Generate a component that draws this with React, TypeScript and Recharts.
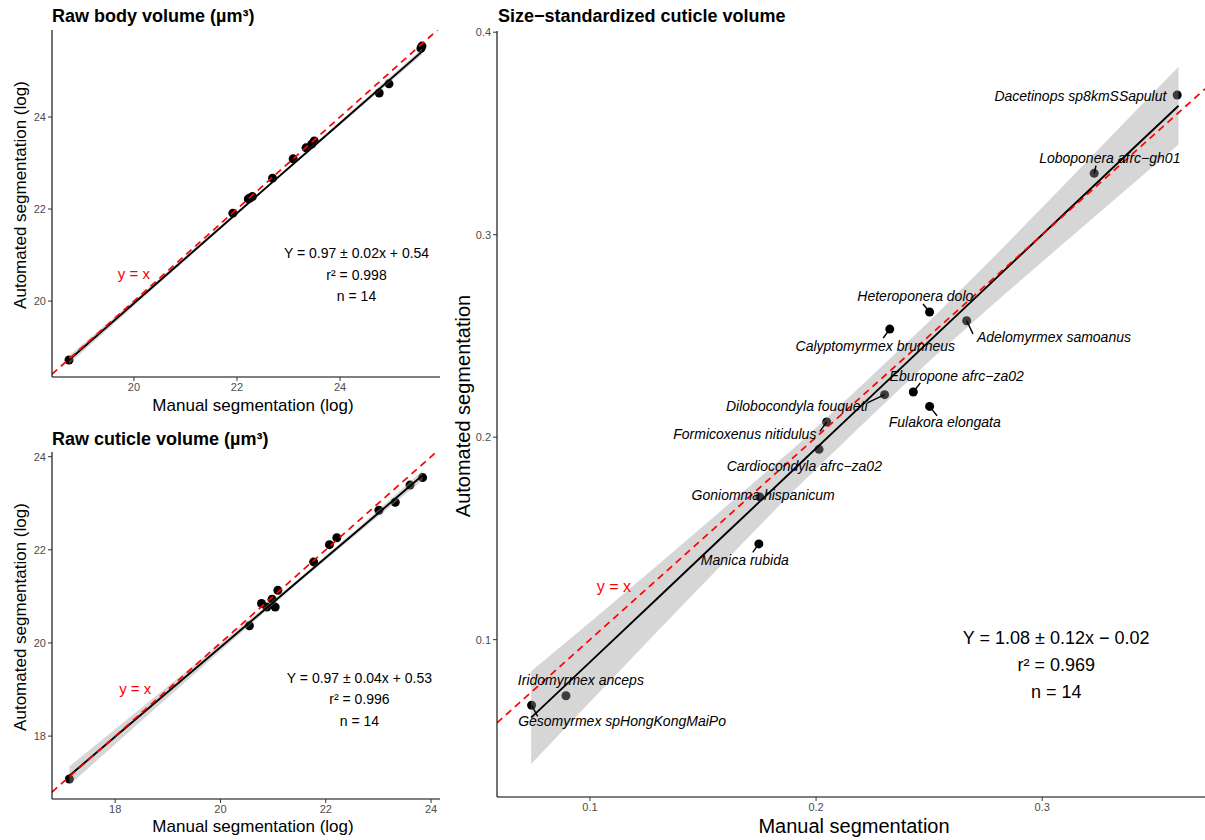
import React from 'react';
import { ComposedChart, XAxis, YAxis, Scatter, Area, Line, ReferenceLine } from 'recharts';

const FONT = '"Liberation Sans", Arial, Helvetica, sans-serif';

// ---------- Panel A: raw body volume ----------
const bodyManual = [18.74, 21.92, 22.22, 22.25, 22.30, 22.69, 23.09, 23.34, 23.45, 23.50, 24.76, 24.95, 25.57, 25.59];
const bodyAuto = [18.72, 21.91, 22.22, 22.24, 22.27, 22.67, 23.09, 23.33, 23.41, 23.48, 24.52, 24.72, 25.49, 25.54];
const bodyFitX = [18.74, 20.5, 22.5, 24.0, 25.59];
const bodyFitY = [18.72, 20.44, 22.40, 23.865, 25.42];
const bodyLow = [18.63, 20.39, 22.37, 23.825, 25.35];
const bodyHigh = [18.81, 20.49, 22.43, 23.905, 25.49];
const bodyXTicks = [20, 22, 24];
const bodyYTicks = [20, 22, 24];
const bodyEq = ['Y = 0.97 ± 0.02x + 0.54', 'r² = 0.998', 'n = 14'];

// ---------- Panel B: raw cuticle volume ----------
const cutManual = [17.13, 20.55, 20.78, 20.88, 20.98, 21.04, 21.09, 21.77, 22.07, 22.21, 23.01, 23.32, 23.60, 23.84];
const cutAuto = [17.08, 20.37, 20.85, 20.77, 20.94, 20.77, 21.13, 21.74, 22.11, 22.26, 22.85, 23.02, 23.39, 23.55];
const cutFitX = [17.13, 18.5, 20.0, 21.5, 22.7, 23.84];
const cutFitY = [17.15, 18.47, 19.91, 21.35, 22.50, 23.60];
const cutLow = [16.95, 18.33, 19.83, 21.31, 22.44, 23.50];
const cutHigh = [17.35, 18.61, 19.99, 21.39, 22.56, 23.70];
const cutXTicks = [18, 20, 22, 24];
const cutYTicks = [18, 20, 22, 24];
const cutEq = ['Y = 0.97 ± 0.04x + 0.53', 'r² = 0.996', 'n = 14'];

// ---------- Panel C: size-standardized cuticle volume ----------
const species = [
  'Dacetinops sp8kmSSapulut', 'Loboponera afrc\u2212gh01', 'Heteroponera dolo', 'Calyptomyrmex brunneus',
  'Adelomyrmex samoanus', 'Dilobocondyla fouqueti', 'Eburopone afrc\u2212za02', 'Fulakora elongata',
  'Formicoxenus nitidulus', 'Cardiocondyla afrc\u2212za02', 'Goniomma hispanicum', 'Manica rubida',
  'Iridomyrmex anceps', 'Gesomyrmex spHongKongMaiPo',
];
const stdManual = [0.3597, 0.3230, 0.2502, 0.2326, 0.2666, 0.2303, 0.2430, 0.2502, 0.2047, 0.2013, 0.1751, 0.1747, 0.0894, 0.0742];
const stdAuto = [0.3690, 0.3303, 0.2618, 0.2534, 0.2575, 0.2210, 0.2223, 0.2152, 0.2075, 0.1940, 0.1705, 0.1473, 0.0723, 0.0676];
const labelX = [0.3169, 0.3299, 0.2439, 0.2262, 0.3052, 0.1915, 0.2622, 0.2569, 0.1685, 0.1948, 0.1766, 0.1685, 0.0960, 0.1142];
const labelY = [0.3686, 0.3379, 0.2695, 0.2452, 0.2493, 0.2156, 0.2300, 0.2073, 0.2017, 0.1859, 0.1716, 0.1395, 0.0802, 0.0597];
const segEndX = [null, 0.3238, 0.2473, 0.2297, 0.2694, 0.2227, 0.2461, 0.2535, 0.2017, null, null, 0.1720, null, 0.0769];
const segEndY = [null, 0.3341, 0.2658, 0.2490, 0.2510, 0.2169, 0.2268, 0.2106, 0.2029, null, null, 0.1431, null, 0.0621];
const stdFitX = [0.074, 0.10, 0.13, 0.16, 0.19, 0.22, 0.25, 0.28, 0.31, 0.34, 0.3603];
const stdFitY = [0.0615, 0.0889, 0.1206, 0.1523, 0.1839, 0.2156, 0.2473, 0.2789, 0.3106, 0.3423, 0.3637];
const stdLow = [0.0386, 0.0692, 0.1043, 0.1390, 0.1734, 0.2058, 0.2375, 0.2672, 0.2963, 0.3250, 0.3445];
const stdHigh = [0.0844, 0.1086, 0.1369, 0.1656, 0.1944, 0.2254, 0.2571, 0.2906, 0.3249, 0.3596, 0.3829];
const stdXTicks = [0.1, 0.2, 0.3];
const stdYTicks = [0.1, 0.2, 0.3, 0.4];
const stdEq = ['Y = 1.08 ± 0.12x \u2212 0.02', 'r² = 0.969', 'n = 14'];

const Dot = (props: any) => {
  const { cx, cy } = props;
  if (cx == null || cy == null) return null;
  return <circle cx={cx} cy={cy} r={4.5} fill="#000" />;
};

const makeText = (size: number, color: string, italic: boolean, lh: number) => (props: any) => {
  const { cx, cy, payload } = props;
  if (cx == null || cy == null) return null;
  const lines: string[] = payload.lines;
  const start = -((lines.length - 1) * lh) / 2;
  return (
    <text
      textAnchor="middle"
      fontFamily={FONT}
      fontSize={size}
      fill={color}
      fontStyle={italic ? 'italic' : 'normal'}
    >
      {lines.map((l, i) => (
        <tspan key={i} x={cx} y={cy + start + i * lh + size * 0.36}>
          {l}
        </tspan>
      ))}
    </text>
  );
};

type PanelProps = {
  width: number;
  height: number;
  margin: { top: number; right: number; bottom: number; left: number };
  xDomain: [number, number];
  yDomain: [number, number];
  xTicks: number[];
  yTicks: number[];
  xs: number[];
  ys: number[];
  fitX: number[];
  fitY: number[];
  low: number[];
  high: number[];
  yx: { x: number; y: number };
  yxSize: number;
  eq: { x: number; y: number; lines: string[] };
  eqSize: number;
  eqLh: number;
  labels?: { x: number; y: number; lines: string[] }[];
  segments?: { x1: number; y1: number; x2: number; y2: number }[];
};

function Panel(p: PanelProps) {
  const ribbon = p.fitX.map((x, i) => ({ x, fit: p.fitY[i], band: [p.low[i], p.high[i]] }));
  const pts = p.xs.map((x, i) => ({ x, y: p.ys[i] }));
  const lo = Math.max(p.xDomain[0], p.yDomain[0]);
  const hi = Math.min(p.xDomain[1], p.yDomain[1]);
  const tickStyle = { fill: '#4d4d4d', fontSize: 11, fontFamily: FONT };
  const YXText = makeText(p.yxSize, '#ff0000', false, 0);
  const EqText = makeText(p.eqSize, '#000', false, p.eqLh);
  const LabelText = makeText(14, '#000', true, 0);
  return (
    <ComposedChart width={p.width} height={p.height} margin={p.margin} data={ribbon}>
      <XAxis
        type="number"
        dataKey="x"
        domain={p.xDomain}
        ticks={p.xTicks}
        allowDataOverflow
        height={23}
        tickSize={4}
        tickMargin={2}
        tick={tickStyle}
        tickLine={{ stroke: '#333' }}
        axisLine={{ stroke: '#000', strokeWidth: 1.1 }}
      />
      <YAxis
        type="number"
        dataKey="y"
        domain={p.yDomain}
        ticks={p.yTicks}
        allowDataOverflow
        width={52}
        tickSize={4}
        tickMargin={2}
        tick={tickStyle}
        tickLine={{ stroke: '#333' }}
        axisLine={{ stroke: '#000', strokeWidth: 1.1 }}
      />
      <Scatter data={pts} dataKey="y" shape={Dot} isAnimationActive={false} zIndex={50} />
      <Area
        dataKey="band"
        type="linear"
        fill="#999999"
        fillOpacity={0.4}
        stroke="none"
        isAnimationActive={false}
        activeDot={false}
        zIndex={100}
      />
      <Line
        dataKey="fit"
        type="linear"
        stroke="#000"
        strokeWidth={1.9}
        dot={false}
        activeDot={false}
        isAnimationActive={false}
        zIndex={400}
      />
      <ReferenceLine
        segment={[{ x: lo, y: lo }, { x: hi, y: hi }]}
        stroke="#ff0000"
        strokeWidth={1.7}
        strokeDasharray="7 5"
        ifOverflow="hidden"
        zIndex={450}
      />
      {(p.segments || []).map((s, i) => (
        <ReferenceLine
          key={i}
          segment={[{ x: s.x1, y: s.y1 }, { x: s.x2, y: s.y2 }]}
          stroke="#000"
          strokeWidth={1.4}
          ifOverflow="hidden"
          zIndex={460}
        />
      ))}
      <Scatter data={[{ x: p.yx.x, y: p.yx.y, lines: ['y = x'] }]} dataKey="y" shape={YXText} isAnimationActive={false} zIndex={2000} />
      <Scatter data={[p.eq]} dataKey="y" shape={EqText} isAnimationActive={false} zIndex={2000} />
      {p.labels ? (
        <Scatter data={p.labels} dataKey="y" shape={LabelText} isAnimationActive={false} zIndex={2000} />
      ) : null}
    </ComposedChart>
  );
}

const abs = (left: number, top: number): React.CSSProperties => ({ position: 'absolute', left, top });

const Title = ({ left, top, text }: { left: number; top: number; text: string }) => (
  <div style={{ ...abs(left, top), fontFamily: FONT, fontWeight: 'bold', fontSize: 18, lineHeight: '20px', whiteSpace: 'nowrap', color: '#000' }}>
    {text}
  </div>
);

const XLabel = ({ cx, top, text, size }: { cx: number; top: number; text: string; size: number }) => (
  <div style={{ ...abs(cx, top), transform: 'translateX(-50%)', fontFamily: FONT, fontSize: size, lineHeight: `${Math.round(size * 1.2)}px`, whiteSpace: 'nowrap', color: '#000' }}>
    {text}
  </div>
);

const YLabel = ({ cx, cy, text, size }: { cx: number; cy: number; text: string; size: number }) => (
  <div style={{ ...abs(cx, cy), transform: 'translate(-50%, -50%) rotate(-90deg)', fontFamily: FONT, fontSize: size, lineHeight: `${Math.round(size * 1.2)}px`, whiteSpace: 'nowrap', color: '#000' }}>
    {text}
  </div>
);

export default function App() {
  const stdLabels = species.map((s, i) => ({ x: labelX[i], y: labelY[i], lines: [s] }));
  const stdSegments = species
    .map((_, i) =>
      segEndX[i] == null ? null : { x1: stdManual[i], y1: stdAuto[i], x2: segEndX[i] as number, y2: segEndY[i] as number }
    )
    .filter(Boolean) as { x1: number; y1: number; x2: number; y2: number }[];

  return (
    <div style={{ position: 'absolute', left: 0, top: 0, width: 1205, height: 840, background: '#fff', overflow: 'hidden' }}>
      <div style={abs(0, 0)}>
        <Panel
          width={441}
          height={400}
          margin={{ top: 30, right: 1, bottom: 0, left: 0 }}
          xDomain={[18.41, 25.94]}
          yDomain={[18.35, 25.89]}
          xTicks={bodyXTicks}
          yTicks={bodyYTicks}
          xs={bodyManual}
          ys={bodyAuto}
          fitX={bodyFitX}
          fitY={bodyFitY}
          low={bodyLow}
          high={bodyHigh}
          yx={{ x: 20.0, y: 20.6 }}
          yxSize={15}
          eq={{ x: 24.32, y: 20.57, lines: bodyEq }}
          eqSize={14}
          eqLh={21.5}
        />
      </div>
      <div style={abs(0, 422)}>
        <Panel
          width={441}
          height={400}
          margin={{ top: 30, right: 1, bottom: 0, left: 0 }}
          xDomain={[16.8, 24.17]}
          yDomain={[16.65, 24.1]}
          xTicks={cutXTicks}
          yTicks={cutYTicks}
          xs={cutManual}
          ys={cutAuto}
          fitX={cutFitX}
          fitY={cutFitY}
          low={cutLow}
          high={cutHigh}
          yx={{ x: 18.38, y: 19.03 }}
          yxSize={15}
          eq={{ x: 22.64, y: 18.79, lines: cutEq }}
          eqSize={14}
          eqLh={21.5}
        />
      </div>
      <div style={abs(445, 0)}>
        <Panel
          width={760}
          height={820}
          margin={{ top: 31, right: 0, bottom: 0, left: 0 }}
          xDomain={[0.0589, 0.372]}
          yDomain={[0.0223, 0.4006]}
          xTicks={stdXTicks}
          yTicks={stdYTicks}
          xs={stdManual}
          ys={stdAuto}
          fitX={stdFitX}
          fitY={stdFitY}
          low={stdLow}
          high={stdHigh}
          yx={{ x: 0.1106, y: 0.1262 }}
          yxSize={16}
          eq={{ x: 0.3062, y: 0.0877, lines: stdEq }}
          eqSize={18}
          eqLh={27}
          labels={stdLabels}
          segments={stdSegments}
        />
      </div>

      <Title left={52} top={6} text="Raw body volume (µm³)" />
      <Title left={52} top={429} text="Raw cuticle volume (µm³)" />
      <Title left={498} top={6} text={'Size\u2212standardized cuticle volume'} />

      <XLabel cx={253} top={396} text="Manual segmentation (log)" size={17} />
      <XLabel cx={253} top={817} text="Manual segmentation (log)" size={17} />
      <XLabel cx={854} top={814} text="Manual segmentation" size={20} />

      <YLabel cx={21} cy={195} text="Automated segmentation (log)" size={17} />
      <YLabel cx={21} cy={617} text="Automated segmentation (log)" size={17} />
      <YLabel cx={463} cy={406} text="Automated segmentation" size={20} />
    </div>
  );
}
